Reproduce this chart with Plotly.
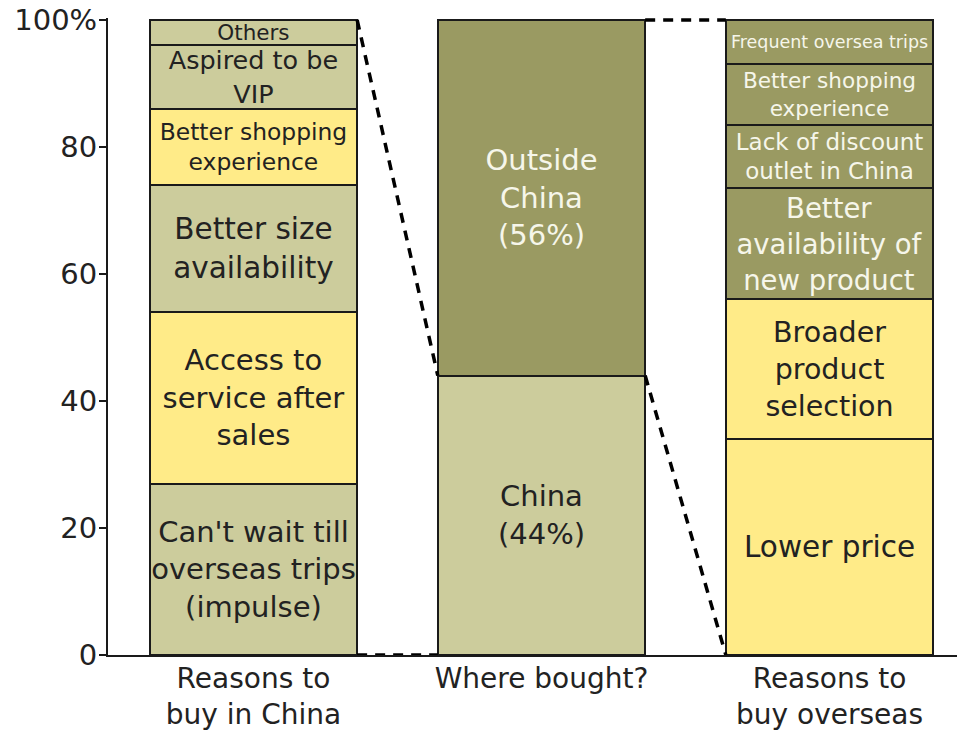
"""Where luxury shoppers buy, and why — three linked 100% stacked bars."""

import plotly.graph_objects as go

FONT = "DejaVu Sans"
LIGHT, YELLOW, DARK = "#cccc9c", "#ffeb88", "#9a9a62"
INK, PALE = "#222222", "#f6f6ea"

categories = ["Reasons to<br>buy in China", "Where bought?", "Reasons to<br>buy overseas"]

china_labels = ["Can't wait till<br>overseas trips<br>(impulse)", "Access to<br>service after<br>sales",
                "Better size<br>availability", "Better shopping<br>experience", "Aspired to be<br>VIP", "Others"]
china_share = [27, 27, 20, 12, 10, 4]
china_fill = [LIGHT, YELLOW, LIGHT, YELLOW, LIGHT, LIGHT]
china_size = [29, 29, 29.5, 23.4, 25.5, 21.5]

where_labels = ["China<br>(44%)", "Outside<br>China<br>(56%)"]
where_share = [44, 56]
where_fill = [LIGHT, DARK]
where_size = [29, 29]

overseas_labels = ["Lower price", "Broader<br>product<br>selection", "Better<br>availability of<br>new product",
                   "Lack of discount<br>outlet in China", "Better shopping<br>experience", "Frequent oversea trips"]
overseas_share = [34, 22, 17.5, 10, 9.5, 7]
overseas_fill = [YELLOW, YELLOW, DARK, DARK, DARK, DARK]
overseas_size = [29.5, 28.5, 27.5, 23, 21.6, 17.5]

BAR_W = 0.72

fig = go.Figure()
stacks = [
    (china_labels, china_share, china_fill, china_size),
    (where_labels, where_share, where_fill, where_size),
    (overseas_labels, overseas_share, overseas_fill, overseas_size),
]
for pos, (labels, shares, fills, sizes) in enumerate(stacks):
    for label, share, fill, size in zip(labels, shares, fills, sizes):
        fig.add_trace(go.Bar(
            x=[pos], y=[share], width=BAR_W, text=[label],
            textposition="inside", insidetextanchor="middle", textangle=0,
            constraintext="none",
            textfont=dict(family=FONT, size=size, color=PALE if fill == DARK else INK),
            marker=dict(color=fill, line=dict(color="#1a1a1a", width=2)),
            showlegend=False, hoverinfo="skip",
        ))

# dashed connectors: the China slice fans out to the left, the overseas slice to the right
half = BAR_W / 2
china_top = where_share[0]
connectors = [
    ([0 + half, 1 - half], [100, china_top]),
    ([0 + half, 1 - half], [0, 0]),
    ([1 + half, 2 - half], [100, 100]),
    ([1 + half, 2 - half], [china_top, 0]),
]
for xs, ys in connectors:
    fig.add_trace(go.Scatter(x=xs, y=ys, mode="lines", showlegend=False, hoverinfo="skip",
                             line=dict(color="black", width=3.5, dash="10px,8px"), cliponaxis=False))

# the page body adds an 8px offset, so the figure is drawn 8px smaller each way
fig.update_layout(
    barmode="stack", width=957, height=723,
    margin=dict(l=100, r=3, t=10, b=76, autoexpand=False),
    paper_bgcolor="white", plot_bgcolor="white",
    font=dict(family=FONT, color=INK),
)
fig.update_xaxes(range=[-0.505, 2.46], tickvals=[0, 1, 2], ticktext=categories,
                 showline=True, linecolor="#1a1a1a", linewidth=2, showgrid=False, zeroline=False,
                 ticks="", tickfont=dict(size=28, color=INK), automargin=False,
                 ticklabeloverflow="allow", ticklabelstandoff=-3)
fig.update_yaxes(range=[0, 100.3], tickvals=[0, 20, 40, 60, 80, 100],
                 ticktext=["0", "20", "40", "60", "80", "100%"],
                 showline=True, linecolor="#1a1a1a", linewidth=2, showgrid=False, zeroline=False,
                 ticks="outside", ticklen=7, tickwidth=2, tickcolor="#1a1a1a",
                 tickfont=dict(size=29, color=INK), automargin=False,
                 ticklabeloverflow="allow", ticklabelstandoff=-4)

fig.write_html("out.html")
